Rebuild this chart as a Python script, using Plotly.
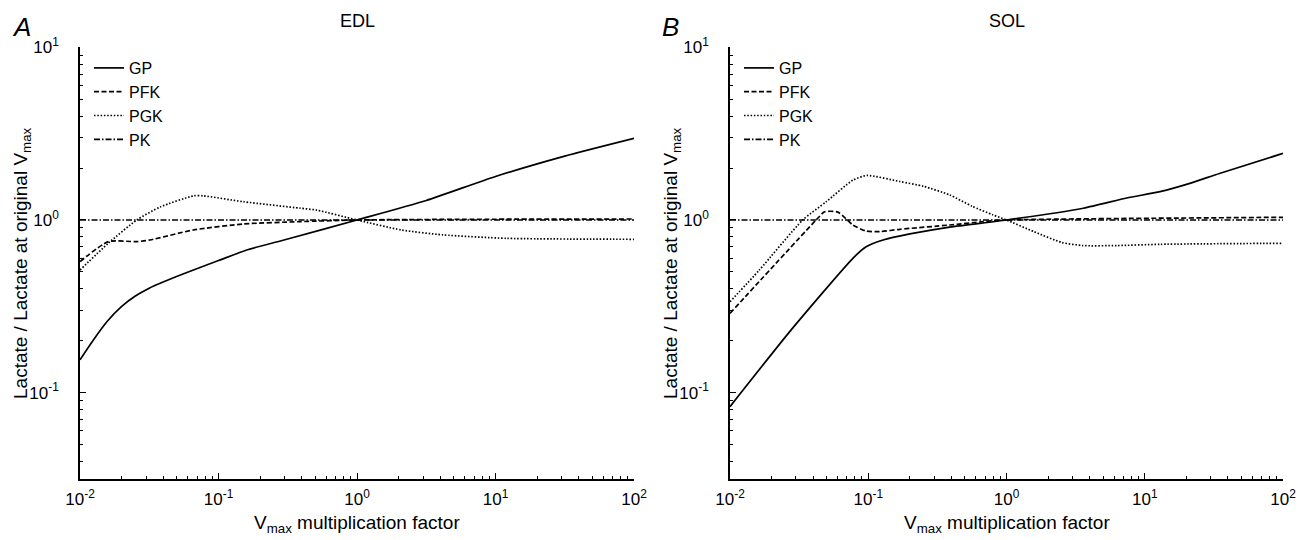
import plotly.graph_objects as go

# ---- Data: lactate relative to original Vmax, vs Vmax multiplication factor ----
# EDL muscle
edl_gp_x = [0.01, 0.0126, 0.0158, 0.02, 0.0251, 0.0316, 0.0398, 0.0631, 0.1, 0.158, 0.316, 1.0, 3.16, 10.0, 31.6, 100.0]
edl_gp_y = [0.155, 0.204, 0.26, 0.316, 0.363, 0.403, 0.437, 0.507, 0.582, 0.668, 0.776, 1.0, 1.297, 1.786, 2.344, 2.97]

edl_pfk_x = [0.01, 0.016, 0.0257, 0.032, 0.0658, 0.151, 0.389, 1.0, 10.0, 100.0]
edl_pfk_y = [0.574, 0.749, 0.749, 0.766, 0.875, 0.948, 0.978, 1.0, 1.01, 1.013]

edl_pgk_x = [0.01, 0.016, 0.0257, 0.038, 0.0661, 0.0776, 0.151, 0.389, 0.513, 1.0, 2.09, 4.17, 12.0, 100.0]
edl_pgk_y = [0.513, 0.733, 1.0, 1.19, 1.38, 1.38, 1.276, 1.17, 1.14, 1.0, 0.875, 0.82, 0.783, 0.773]

edl_pk_x = [0.01, 100.0]
edl_pk_y = [1.0, 1.0]

# SOL muscle
sol_gp_x = [0.01, 0.0277, 0.0774, 0.0966, 0.128, 0.20, 0.388, 1.0, 3.59, 7.41, 12.9, 21.2, 34.7, 100.0]
sol_gp_y = [0.083, 0.231, 0.60, 0.70, 0.766, 0.83, 0.91, 1.0, 1.17, 1.34, 1.46, 1.63, 1.86, 2.43]

sol_pfk_x = [0.01, 0.042, 0.0483, 0.0603, 0.0774, 0.0966, 0.121, 0.169, 0.388, 0.676, 1.0, 100.0]
sol_pfk_y = [0.288, 1.0, 1.115, 1.11, 0.935, 0.863, 0.856, 0.883, 0.935, 0.978, 1.0, 1.036]

sol_pgk_x = [0.01, 0.0163, 0.0336, 0.0497, 0.0774, 0.0977, 0.169, 0.251, 0.388, 0.562, 0.794, 1.0, 1.585, 2.51, 3.55, 6.31, 12.9, 100.0]
sol_pgk_y = [0.336, 0.513, 1.0, 1.276, 1.70, 1.81, 1.67, 1.567, 1.396, 1.202, 1.072, 1.0, 0.855, 0.741, 0.711, 0.711, 0.723, 0.733]

sol_pk_x = [0.01, 100.0]
sol_pk_y = [1.0, 1.0]

series_names = ["GP", "PFK", "PGK", "PK"]
panel_titles = ["EDL", "SOL"]
panel_letters = ["A", "B"]

x_tick_vals = [0.01, 0.1, 1, 10, 100]
x_tick_text = ["10<sup>-2</sup>", "10<sup>-1</sup>", "10<sup>0</sup>", "10<sup>1</sup>", "10<sup>2</sup>"]
y_tick_vals = [0.1, 1, 10]
y_tick_text = ["10<sup>-1</sup>", "10<sup>0</sup>", "10<sup>1</sup>"]

# ---- Styling ----
W, H = 1309, 540
FONT = "Liberation Sans, Arial, Helvetica, sans-serif"
dashes = {
    "GP": "solid",
    "PFK": "5px,2.5px",
    "PGK": "1.5px,1.8px",
    "PK": "6px,2px,1.5px,2px",
}
LW = 1.7


def fx(p):
    return p / W


def fy(p):
    return 1 - p / H


minor_x = [m * 10.0 ** k for k in range(-2, 2) for m in range(2, 10)]
minor_y = [m * 10.0 ** k for k in range(-2, 1) for m in range(2, 10) if m * 10.0 ** k >= 10 ** -1.5]

panels = [
    (panel_titles[0], [(edl_gp_x, edl_gp_y), (edl_pfk_x, edl_pfk_y), (edl_pgk_x, edl_pgk_y), (edl_pk_x, edl_pk_y)]),
    (panel_titles[1], [(sol_gp_x, sol_gp_y), (sol_pfk_x, sol_pfk_y), (sol_pgk_x, sol_pgk_y), (sol_pk_x, sol_pk_y)]),
]

fig = go.Figure()
for i, (title, data) in enumerate(panels):
    xa = "x" if i == 0 else "x2"
    ya = "y" if i == 0 else "y2"
    lg = "legend" if i == 0 else "legend2"
    for name, (xs, ys) in zip(series_names, data):
        fig.add_trace(go.Scatter(
            x=xs, y=ys, name=name, mode="lines",
            line=dict(color="black", width=LW, dash=dashes[name], shape="spline", smoothing=0.6),
            xaxis=xa, yaxis=ya, legend=lg, showlegend=True,
        ))

axis_common = dict(
    type="log", showline=True, linecolor="black", linewidth=1.7,
    ticks="inside", ticklen=6, tickwidth=1.2, tickcolor="black",
    showgrid=False, zeroline=False, mirror=False, automargin=False,
    tickfont=dict(family=FONT, size=17, color="black"),
)
xaxis_cfg = dict(axis_common, range=[-2, 2], tickmode="array", tickvals=x_tick_vals, ticktext=x_tick_text,
                 ticklabelstandoff=4,
                 minor=dict(ticks="inside", ticklen=3, tickwidth=1, tickcolor="black", tickvals=minor_x, showgrid=False))
yaxis_cfg = dict(axis_common, range=[-1.5, 1], tickmode="array", tickvals=y_tick_vals, ticktext=y_tick_text,
                 ticklabelstandoff=16,
                 minor=dict(ticks="inside", ticklen=3, tickwidth=1, tickcolor="black", tickvals=minor_y, showgrid=False))

x_domains = [[fx(80), fx(634)], [fx(730), fx(1283)]]
y_domain = [fy(479), fy(47.3)]

legend_cfg = dict(
    xanchor="left", yanchor="top", bgcolor="rgba(0,0,0,0)", borderwidth=0,
    font=dict(family=FONT, size=16, color="black"), tracegroupgap=0, itemwidth=30,
)

fig.update_layout(
    width=W, height=H,
    margin=dict(l=0, r=0, t=0, b=0, autoexpand=False),
    paper_bgcolor="white", plot_bgcolor="white",
    font=dict(family=FONT, color="black"),
    xaxis=dict(xaxis_cfg, domain=x_domains[0], anchor="y"),
    yaxis=dict(yaxis_cfg, domain=y_domain, anchor="x"),
    xaxis2=dict(xaxis_cfg, domain=x_domains[1], anchor="y2"),
    yaxis2=dict(yaxis_cfg, domain=y_domain, anchor="x2"),
    legend=dict(legend_cfg, x=fx(89), y=fy(51)),
    legend2=dict(legend_cfg, x=fx(739), y=fy(51)),
)

annotations = []
centers = [357, 1007]
for i in range(2):
    off = 0 if i == 0 else 650
    annotations.append(dict(text=panel_titles[i], x=fx(centers[i]), y=fy(21), xref="paper", yref="paper",
                            showarrow=False, xanchor="center", yanchor="middle",
                            font=dict(family=FONT, size=18, color="black")))
    annotations.append(dict(text="<i>" + panel_letters[i] + "</i>", x=fx(10 + off), y=fy(27), xref="paper", yref="paper",
                            showarrow=False, xanchor="left", yanchor="middle",
                            font=dict(family=FONT, size=26, color="black")))
    annotations.append(dict(text="Lactate / Lactate at original V<sub>max</sub>", x=fx(22 + off), y=fy(263),
                            xref="paper", yref="paper", showarrow=False, textangle=-90,
                            xanchor="center", yanchor="middle",
                            font=dict(family=FONT, size=19, color="black")))
    annotations.append(dict(text="V<sub>max</sub> multiplication factor", x=fx(centers[i]), y=fy(524),
                            xref="paper", yref="paper", showarrow=False,
                            xanchor="center", yanchor="middle",
                            font=dict(family=FONT, size=19, color="black")))
fig.update_layout(annotations=annotations)

fig.write_html("out.html")
